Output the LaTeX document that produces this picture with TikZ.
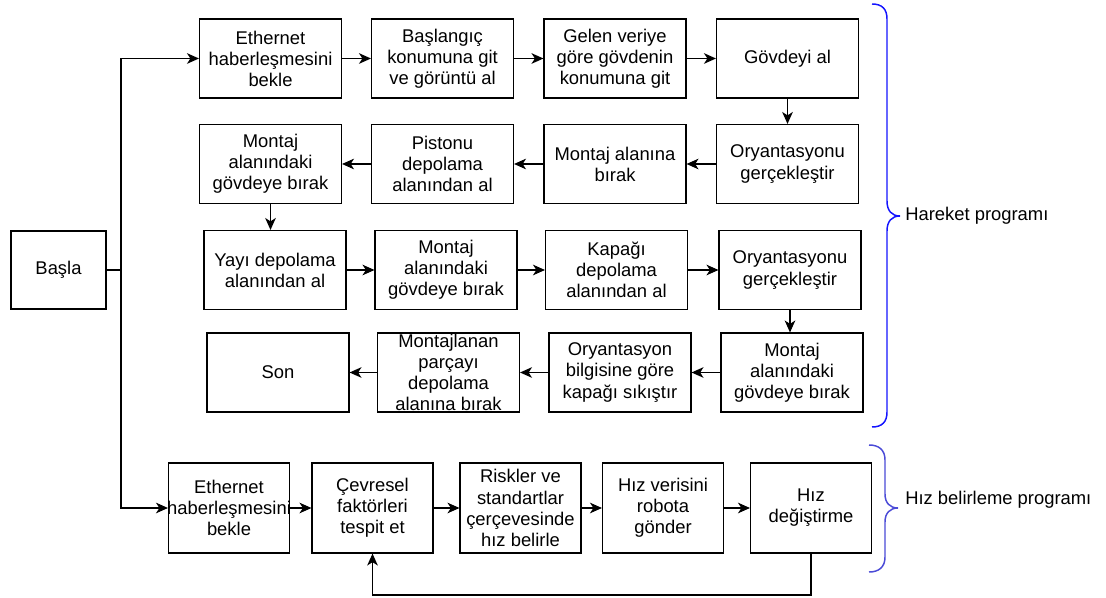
\documentclass[tikz,border=0pt]{standalone}
\usepackage{fontspec}
\setmainfont{Liberation Sans}
\usetikzlibrary{arrows.meta}
\newcommand{\bt}[3]{\parbox[c][#2][c]{#1}{\centering\leftskip=0pt plus 1fil minus 20pt\rightskip=0pt plus 1fil minus 20pt\relax #3\par}}
\begin{document}
\begin{tikzpicture}[x=0.75pt,y=-0.75pt,
  box/.style={draw, line width=0.85pt, inner sep=0pt, font=\fontsize{13.8}{15.8}\selectfont},
  arr/.style={line width=0.85pt,-{Stealth[length=9pt,width=8pt,inset=2.6pt]}},
  ln/.style={line width=0.85pt},
  bracea/.style={line width=1.1pt, draw={rgb,255:red,20;green,20;blue,255}},
  braceb/.style={line width=1.1pt, draw={rgb,255:red,75;green,75;blue,215}},
  lbl/.style={anchor=west, inner sep=0pt, font=\fontsize{13.8}{15.8}\selectfont}]
\fill[white] (0,0) rectangle (1106,598);
\path[use as bounding box] (0,0) rectangle (1106,598);

% start
\node[box] (s) at (58.5,270) {\bt{71.25pt}{58.5pt}{Başla}};

% row 1
\node[box] (a1) at (270.5,58.5) {\bt{106.5pt}{59.25pt}{Ethernet\\haberleşmesini\\bekle}};
\node[box] (a2) at (442.5,58.5) {\bt{106.5pt}{59.25pt}{Başlangıç\\konumuna git\\ve görüntü al}};
\node[box] (a3) at (615,58.5) {\bt{106.5pt}{59.25pt}{Gelen veriye\\göre gövdenin\\konumuna git}};
\node[box] (a4) at (787.5,58.5) {\bt{106.5pt}{59.25pt}{Gövdeyi al}};

% row 2
\node[box] (b4) at (787.5,164) {\bt{106.5pt}{59.25pt}{Oryantasyonu\\gerçekleştir}};
\node[box] (b3) at (615,164) {\bt{106.5pt}{59.25pt}{Montaj alanına\\bırak}};
\node[box] (b2) at (442.5,164) {\bt{106.5pt}{59.25pt}{Pistonu\\depolama\\alanından al}};
\node[box] (b1) at (270.5,164) {\bt{106.5pt}{59.25pt}{Montaj\\alanındaki\\gövdeye bırak}};

% row 3
\node[box] (c1) at (275,270) {\bt{106.5pt}{59.25pt}{Yayı depolama\\alanından al}};
\node[box] (c2) at (446,270) {\bt{106.5pt}{59.25pt}{Montaj\\alanındaki\\gövdeye bırak}};
\node[box] (c3) at (616.5,270) {\bt{106.5pt}{59.25pt}{Kapağı\\depolama\\alanından al}};
\node[box] (c4) at (790,270) {\bt{106.5pt}{59.25pt}{Oryantasyonu\\gerçekleştir}};

% row 4
\node[box] (d4) at (792,372.5) {\bt{106.5pt}{59.25pt}{Montaj\\alanındaki\\gövdeye bırak}};
\node[box] (d3) at (620,372.5) {\bt{106.5pt}{59.25pt}{Oryantasyon\\bilgisine göre\\kapağı sıkıştır}};
\node[box] (d2) at (448.5,372.5) {\bt{106.5pt}{59.25pt}{Montajlanan\\parçayı\\depolama\\alanına bırak}};
\node[box] (d1) at (278,372.5) {\bt{106.5pt}{59.25pt}{Son}};

% bottom row
\node[box] (e1) at (229,508) {\bt{90.75pt}{67.5pt}{Ethernet\\haberleşmesini\\bekle}};
\node[box] (e2) at (372.5,508) {\bt{90.75pt}{67.5pt}{Çevresel\\faktörleri\\tespit et}};
\node[box] (e3) at (520.5,508) {\bt{90.75pt}{67.5pt}{Riskler ve\\standartlar\\çerçevesinde\\hız belirle}};
\node[box] (e4) at (663,508) {\bt{90.75pt}{67.5pt}{Hız verisini\\robota\\gönder}};
\node[box] (e5) at (811,508) {\bt{90.75pt}{67.5pt}{Hız\\değiştirme}};

% trunk
\coordinate (j) at (121,270);
\coordinate (lb) at (0,595);
\draw[ln] (s.east) -- (j);
\draw[arr] (j) |- (a1.west);
\draw[arr] (j) |- (e1.west);

% row 1 arrows
\draw[arr] (a1) -- (a2);
\draw[arr] (a2) -- (a3);
\draw[arr] (a3) -- (a4);
\draw[arr] (a4.south) -- (b4.north);
% row 2 arrows
\draw[arr] (b4) -- (b3);
\draw[arr] (b3) -- (b2);
\draw[arr] (b2) -- (b1);
\draw[arr] (b1.south) -- (b1.south |- c1.north);
% row 3 arrows
\draw[arr] (c1) -- (c2);
\draw[arr] (c2) -- (c3);
\draw[arr] (c3) -- (c4);
\draw[arr] (c4.south) -- (c4.south |- d4.north);
% row 4 arrows
\draw[arr] (d4.west) -- (d3.east);
\draw[arr] (d3.west) -- (d2.east);
\draw[arr] (d2.west) -- (d1.east);
% bottom arrows
\draw[arr] (e1) -- (e2);
\draw[arr] (e2) -- (e3);
\draw[arr] (e3) -- (e4);
\draw[arr] (e4) -- (e5);
\draw[arr] (e5.south) -- (e5.south |- lb) -| (e2.south);

% braces
\draw[bracea] (872,4) .. controls (882,4) and (887,9) .. (887,19)
  -- (887,201) .. controls (887,211) and (892,216) .. (900,216)
  .. controls (892,216) and (887,221) .. (887,231)
  -- (887,412) .. controls (887,422) and (882,427) .. (872,427);
\node[lbl] (h1) at (905,216) {Hareket programı};

\draw[braceb] (869,445) .. controls (879,445) and (885,450) .. (885,460)
  -- (885,494) .. controls (885,503) and (890,508) .. (898,508)
  .. controls (890,508) and (885,513) .. (885,522)
  -- (885,557) .. controls (885,567) and (879,572) .. (869,572);
\node[lbl] (h2) at (905,500) {Hız belirleme programı};
\end{tikzpicture}
\end{document}
